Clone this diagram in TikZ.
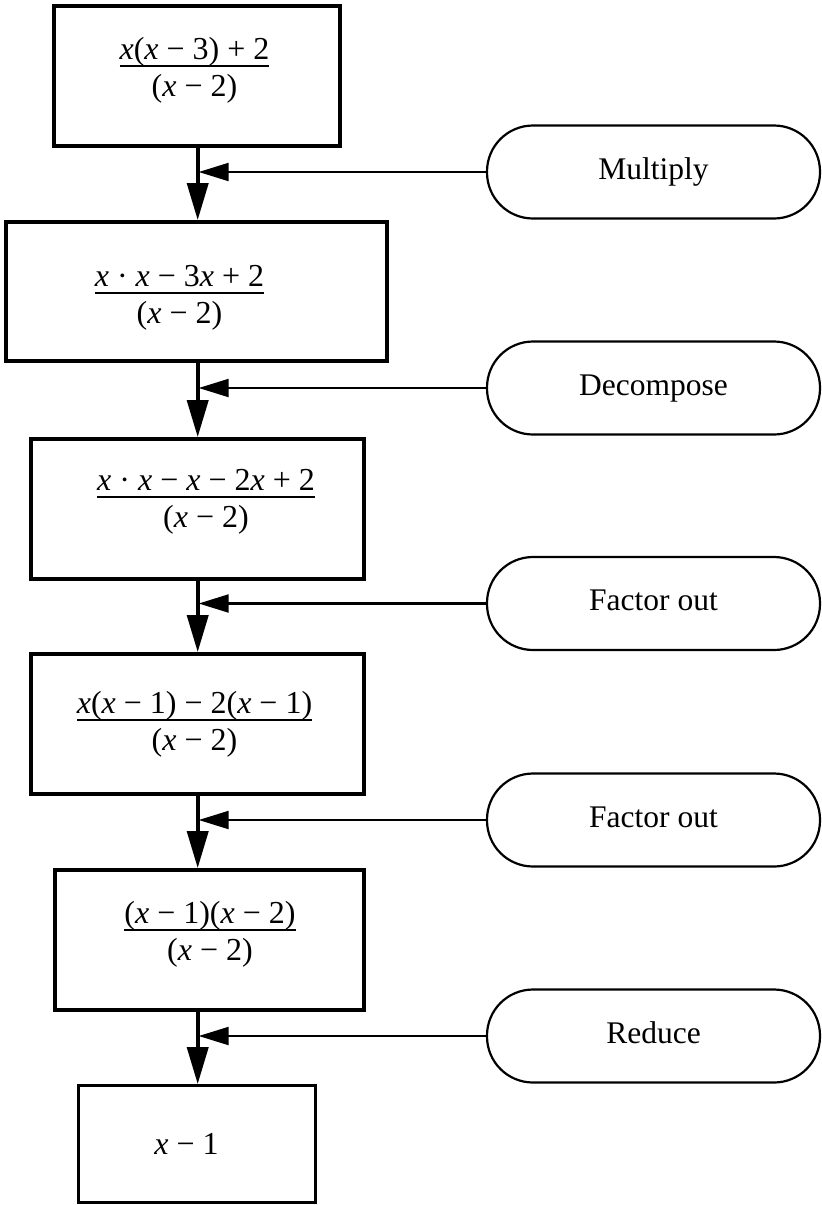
\documentclass[tikz,border=0pt]{standalone}
\usepackage{fontspec}
\setmainfont{Liberation Serif}
\usetikzlibrary{arrows.meta}

% italic variable and a binary operator with its side spacing
\newcommand\ix{\textit{x}}
\newcommand\opsp[1]{\kern.25em#1\kern.25em}
% fraction whose baseline is the middle of the fraction bar
\newcommand\fr[2]{%
  \setbox0=\hbox{#1}\setbox2=\hbox{#2}%
  \dimen0=\wd0 \ifdim\wd2>\dimen0 \dimen0=\wd2 \fi
  \rlap{\hbox to\dimen0{\hss\raise7pt\box0\hss}}%
  \rlap{\hbox to\dimen0{\hss\lower30.5pt\box2\hss}}%
  \vrule height.8pt depth.8pt width\dimen0}

\begin{document}
\begin{tikzpicture}[x=1pt,y=-1pt,
  stepbox/.style={draw, line width=3.8pt, inner sep=0pt},
  oval/.style={draw, line width=2.2pt, rounded corners=46pt,
    minimum width=333pt, minimum height=93pt, inner sep=0pt,
    text height=21pt, text depth=7pt,
    font=\fontsize{31.5}{36}\selectfont},
  expr/.style={anchor=base, inner sep=0pt, font=\fontsize{32}{38}\selectfont},
  flow/.style={line width=3.8pt, -{Triangle[length=37pt,width=21pt]}},
  feed/.style={line width=2.2pt, -{Triangle[length=30pt,width=18pt]}}]

\useasboundingbox (0,0) rectangle (822,1205);
\coordinate (spine) at (197.7,0);

% the chain of expressions
\node[stepbox, minimum width=286pt, minimum height=140pt] (b1) at (197,76) {};
\node[stepbox, minimum width=381pt, minimum height=139pt] (b2) at (196.5,291.5) {};
\node[stepbox, minimum width=333pt, minimum height=140pt] (b3) at (197.5,509) {};
\node[stepbox, minimum width=333pt, minimum height=140pt] (b4) at (197.5,724) {};
\node[stepbox, minimum width=309pt, minimum height=140pt] (b5) at (209.5,940) {};
\node[stepbox, line width=2.8pt, minimum width=237pt, minimum height=117pt] (b6) at (197,1144) {};

\node[expr] (t1) at (194.5,66) {\fr{\ix(\ix\opsp{−}3)\opsp{+}2}{(\ix\opsp{−}2)}};
\node[expr] (t2) at (179.5,293) {\fr{\ix\opsp{·}\ix\opsp{−}3\ix\opsp{+}2}{(\ix\opsp{−}2)}};
\node[expr] (t3) at (206,497) {\fr{\ix\opsp{·}\ix\opsp{−}\ix\opsp{−}2\ix\opsp{+}2}{(\ix\opsp{−}2)}};
\node[expr] (t4) at (194.5,720) {\fr{\ix(\ix\opsp{−}1)\opsp{−}2(\ix\opsp{−}1)}{(\ix\opsp{−}2)}};
\node[expr] (t5) at (210,930) {\fr{(\ix\opsp{−}1)(\ix\opsp{−}2)}{(\ix\opsp{−}2)}};
\node[expr] (t6) at (186.5,1154) {\ix\opsp{−}1};

% the operations applied between steps
\node[oval] (m1) at (653.5,172) {Multiply};
\node[oval] (m2) at (653.5,388) {Decompose};
\node[oval] (m3) at (653.5,603.5) {Factor out};
\node[oval] (m4) at (653.5,820) {Factor out};
\node[oval] (m5) at (653.5,1036) {Reduce};

% main flow downwards
\draw[flow] (b1.south -| spine) -- (b2.north -| spine);
\draw[flow] (b2.south -| spine) -- (b3.north -| spine);
\draw[flow] (b3.south -| spine) -- (b4.north -| spine);
\draw[flow] (b4.south -| spine) -- (b5.north -| spine);
\draw[flow] (b5.south -| spine) -- (b6.north -| spine);

% operations feeding into the flow
\foreach \m in {m1,m2,m3,m4,m5}
  \draw[feed] (\m.west) -- ([xshift=1pt]\m.west -| spine);
\end{tikzpicture}
\end{document}
